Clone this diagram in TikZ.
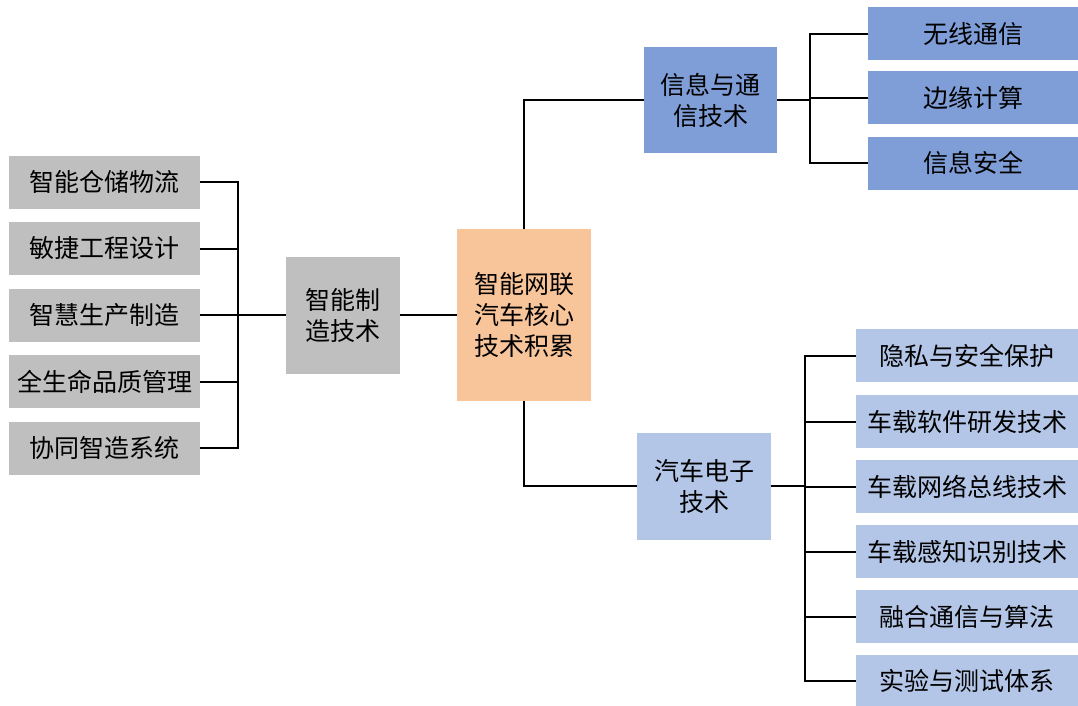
\documentclass[tikz,border=0pt]{standalone}
\usepackage{fontspec}
\newfontfamily\cjk{Noto Sans CJK SC}
\usepackage{tikz}

\definecolor{boxgray}{HTML}{BFBFBF}
\definecolor{boxorange}{HTML}{F8C49A}
\definecolor{boxblue}{HTML}{7F9DD6}
\definecolor{boxlight}{HTML}{B4C6E7}

\tikzset{
    tbox/.style={inner sep=0pt, align=center, font=\cjk\fontsize{25}{31}\selectfont},
    leafl/.style={tbox, fill=boxgray, minimum width=191pt, minimum height=53pt},
    leaft/.style={tbox, fill=boxblue, minimum width=210pt, minimum height=53pt},
    leafb/.style={tbox, fill=boxlight, minimum width=222pt, minimum height=53pt},
    link/.style={black, line width=2pt}
}

\begin{document}
\begin{tikzpicture}[x=1pt, y=-1pt]
    \useasboundingbox (0,0) rectangle (1078,706) ;
    % centre and branches
    \node[tbox, fill=boxorange, minimum width=134pt, minimum height=172pt] (core) at (524,315) {智能网联\\汽车核心\\技术积累} ;
    \node[tbox, fill=boxgray, minimum width=114pt, minimum height=117pt] (zz) at (343,315) {智能制\\造技术} ;
    \node[tbox, fill=boxblue, minimum width=133pt, minimum height=106pt] (xx) at (710.5,100) {信息与通\\信技术} ;
    \node[tbox, fill=boxlight, minimum width=134pt, minimum height=107pt] (qc) at (704,486) {汽车电子\\技术} ;
    % left leaves
    \node[leafl] (l1) at (104.5,182) {智能仓储物流} ;
    \node[leafl] (l2) at (104.5,248.5) {敏捷工程设计} ;
    \node[leafl] (l3) at (104.5,315) {智慧生产制造} ;
    \node[leafl] (l4) at (104.5,381.5) {全生命品质管理} ;
    \node[leafl] (l5) at (104.5,448) {协同智造系统} ;
    % top right leaves
    \node[leaft] (t1) at (973,34) {无线通信} ;
    \node[leaft] (t2) at (973,98) {边缘计算} ;
    \node[leaft] (t3) at (973,163) {信息安全} ;
    % bottom right leaves
    \node[leafb] (b1) at (967,355.5) {隐私与安全保护} ;
    \node[leafb] (b2) at (967,421.5) {车载软件研发技术} ;
    \node[leafb] (b3) at (967,486.5) {车载网络总线技术} ;
    \node[leafb] (b4) at (967,551.5) {车载感知识别技术} ;
    \node[leafb] (b5) at (967,616.5) {融合通信与算法} ;
    \node[leafb] (b6) at (967,681) {实验与测试体系} ;
    % connectors
    \coordinate (lbus) at (238,315) ;
    \coordinate (tbus) at (810,100) ;
    \coordinate (bbus) at (805,486) ;
    \foreach \n in {l1,l2,l3,l4,l5} \draw[link] (\n.east) -| (lbus) ;
    \draw[link] (lbus) -- (zz.west) ;
    \draw[link] (zz.east) -- (core.west) ;
    \draw[link] (core.north) |- (xx.west) ;
    \draw[link] (core.south) |- (qc.west) ;
    \draw[link] (xx.east) -- (tbus) ;
    \foreach \n in {t1,t2,t3} \draw[link] (tbus) |- (\n.west) ;
    \draw[link] (qc.east) -- (bbus) ;
    \foreach \n in {b1,b2,b3,b4,b5,b6} \draw[link] (bbus) |- (\n.west) ;
\end{tikzpicture}
\end{document}
